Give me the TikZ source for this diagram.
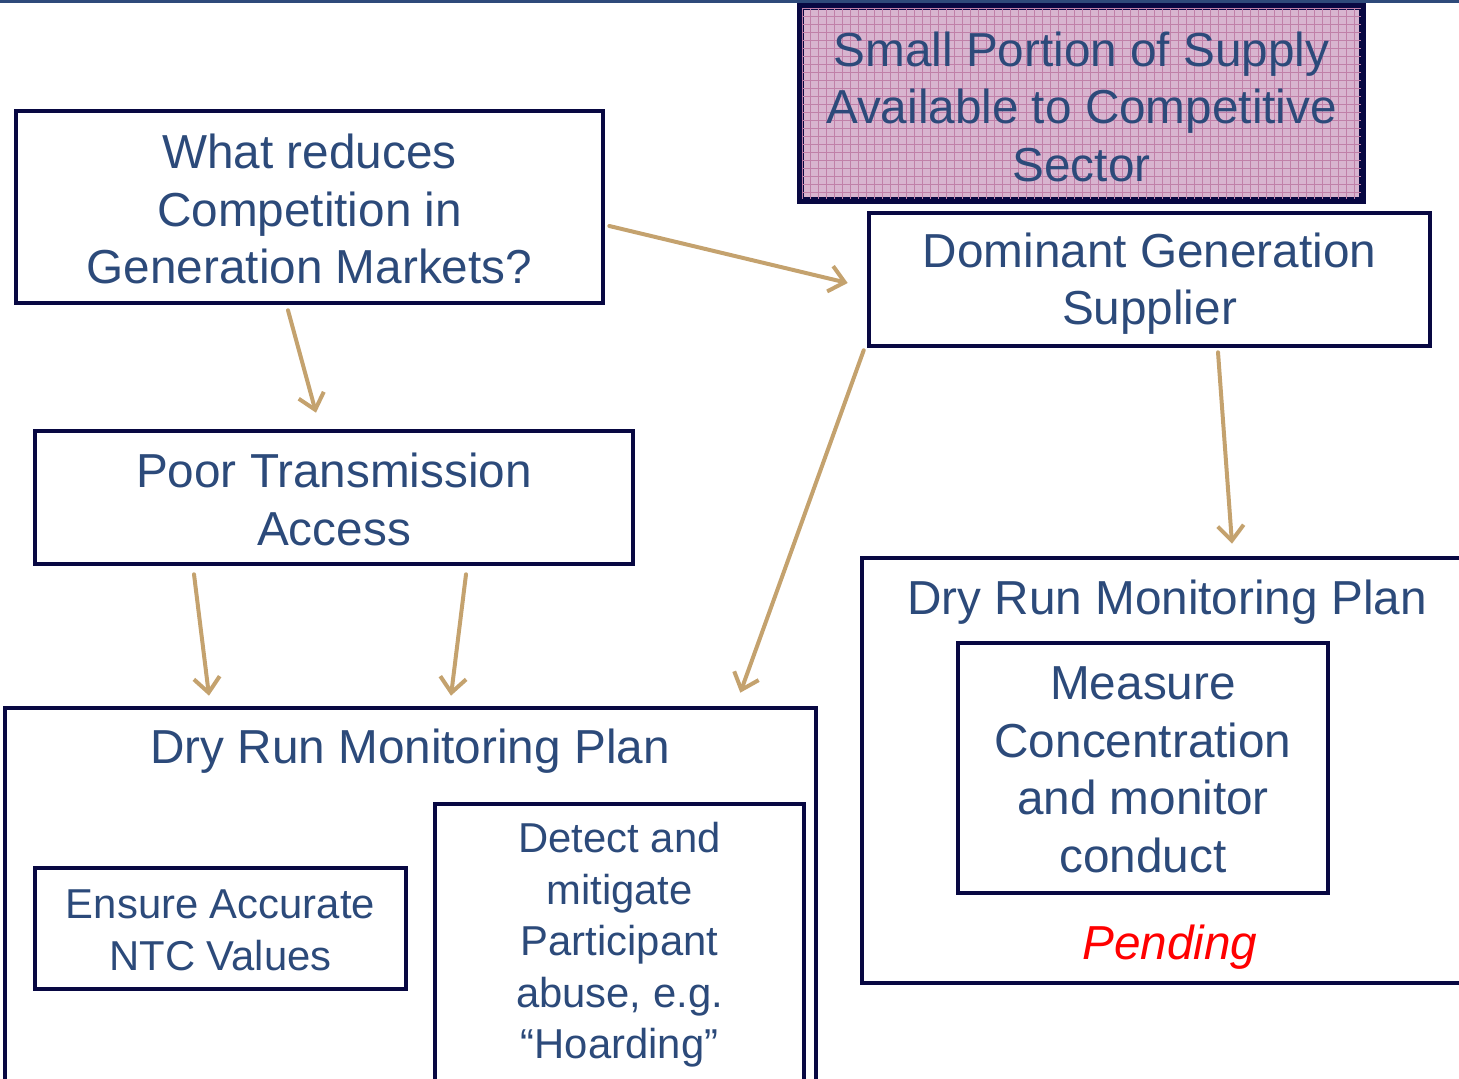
\documentclass[tikz,border=0pt]{standalone}
\usepackage{fontspec}
\setmainfont{Liberation Sans}
\usetikzlibrary{arrows.meta,calc}
\definecolor{boxnavy}{RGB}{8,8,66}
\definecolor{textblue}{RGB}{44,74,122}
\definecolor{arrowtan}{RGB}{196,162,110}
\definecolor{topblue}{RGB}{46,74,122}
\definecolor{pinkfill}{RGB}{216,180,207}
\definecolor{pinkgrid}{RGB}{192,128,168}
\newcommand\bigtxt{\fontsize{23.85}{28.75}\selectfont}
\newcommand\smalltxt{\fontsize{20.9}{25.75}\selectfont}
\tikzset{
  box/.style={draw=boxnavy, line width=2.3pt, rectangle, inner sep=0pt},
  lbl/.style={inner sep=0pt, text=textblue, align=center, font=\bigtxt},
  arr/.style={draw=arrowtan, line width=2pt, line cap=round, -{Straight Barb[length=7.5pt,width=13pt]}}
}
\begin{document}
\begin{tikzpicture}[x=0.5pt,y=-0.5pt]
\useasboundingbox (0,0) rectangle (1459,1079);
\fill[topblue] (0,0) rectangle (1459,3.5);
% pink box
\node[box, fill=pinkfill, minimum width=279.5pt, minimum height=95.5pt] (pink) at (1081.5,103.5) {};
\begin{scope}
\clip (pink.south west) rectangle (pink.north east);
\foreach \i in {802,810,...,1362} {\draw[pinkgrid, line width=0.45pt] (\i,8) -- (\i,199);}
\foreach \j in {8,16,...,200} {\draw[pinkgrid, line width=0.45pt] (802,\j) -- (1361,\j);}
\end{scope}
\draw[boxnavy, line width=2.3pt] (pink.south west) rectangle (pink.north east);
\node[lbl] (pinktext) at ($(pink.center)+(0,3)$) {Small Portion of Supply\\Available to Competitive\\Sector};
% top boxes
\node[box, minimum width=293.5pt, minimum height=96pt] (what) at (309.5,207) {};
\node[lbl] (whattext) at ($(what.center)+(0,2)$) {What reduces\\Competition in\\Generation Markets?};
\node[box, minimum width=280.5pt, minimum height=66.5pt] (dom) at (1149.5,279.5) {};
\node[lbl] (domtext) at ($(dom.center)+(0,4)$) {Dominant Generation\\Supplier};
\node[box, minimum width=299pt, minimum height=66.5pt] (poor) at (334,497.5) {};
\node[lbl] (poortext) at ($(poor.center)+(0,2)$) {Poor Transmission\\Access};
% left plan
\node[box, minimum width=405.5pt, minimum height=206pt] (drl) at (410.5,914) {};
\node[lbl] (drltitle) at (410,751) {Dry Run Monitoring Plan};
\node[box, minimum width=185.5pt, minimum height=60.5pt] (ens) at (220.5,928.5) {};
\node[lbl, font=\smalltxt] (enstext) at ($(ens.center)+(0,2)$) {Ensure Accurate\\NTC Values};
\node[box, minimum width=184.5pt, minimum height=158pt] (det) at (619.5,962) {};
\node[lbl, font=\smalltxt] (dettext) at (619.5,945) {Detect and\\mitigate\\Participant\\abuse, e.g.\\“Hoarding”};
% right plan
\node[box, minimum width=319pt, minimum height=212.5pt] (drr) at (1181,770.5) {};
\node[lbl] (drrtitle) at (1167,602) {Dry Run Monitoring Plan};
\node[box, minimum width=185pt, minimum height=125pt] (meas) at (1143,768) {};
\node[lbl] (meastext) at ($(meas.center)+(0,2)$) {Measure\\Concentration\\and monitor\\conduct};
\node[lbl, text=red, font=\bigtxt\itshape] (pend) at (1170,947) {Pending};
% arrows
\draw[arr] ($(what.south)+(-21.5,5)$) -- ($(poor.north)+(-18,-16)$);
\draw[arr] ($(what.east)+(4,19)$) -- ($(dom.west)+(-19,3.5)$);
\draw[arr] ($(dom.south west)+(-3,2)$) -- ($(drl.north east)+(-78,-13)$);
\draw[arr] ($(dom.south)+(68.5,4)$) -- ($(drr.north)+(51,-12)$);
\draw[arr] ($(poor.south)+(-140,8)$) -- ($(drl.north)+(-201.5,-10)$);
\draw[arr] ($(poor.south)+(132,8)$) -- ($(drl.north)+(40.5,-10)$);
\end{tikzpicture}
\end{document}
